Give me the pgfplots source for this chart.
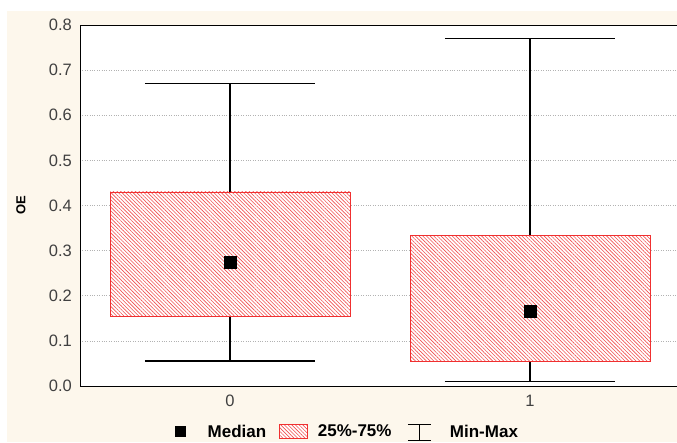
\documentclass[border=0pt]{standalone}
\usepackage{fontspec}
\setmainfont{Liberation Sans}
\usepackage{pgfplots}
\pgfplotsset{compat=1.18}
\usepgfplotslibrary{statistics}
\usetikzlibrary{patterns.meta}
\definecolor{cream}{HTML}{FDF7EC}
\definecolor{hatchred}{HTML}{F03030}
\tikzset{hatchbox/.style={draw=none, preaction={fill=white},
    pattern color=hatchred!85, pattern={Lines[angle=-45,distance=2.6pt,line width=0.6pt]},
    postaction={draw=hatchred, line width=0.9pt, pattern=none, fill=none}}}
\begin{document}
\begin{tikzpicture}
\useasboundingbox (0pt,0pt) rectangle (677pt,442pt);
\fill[cream] (7pt,0pt) rectangle (677pt,431pt);
\begin{axis}[
  at={(80pt,56pt)}, anchor=south west,
  scale only axis, width=600pt, height=361pt,
  xmin=-0.5, xmax=1.5, ymin=0, ymax=0.8,
  axis background/.style={fill=white},
  axis line style={black, line width=0.9pt},
  xtick={0,1}, xticklabels={0,1},
  ytick={0,0.1,...,0.8},
  major tick length=0pt,
  ymajorgrids,
  grid style={gray!60, dotted, line width=0.6pt},
  /pgf/number format/assume math mode=true,
  yticklabel={\pgfmathprintnumber[fixed,fixed zerofill,precision=1]{\tick}},
  tick label style={font=\fontsize{16.5}{18}\selectfont, text=black!75, inner sep=0pt},
  yticklabel style={xshift=-8pt},
  xticklabel style={yshift=-9pt},
  every axis y label/.style={at={(rel axis cs:0,0.5)}, xshift=-59pt, rotate=90, anchor=center,
    font=\fontsize{13}{15}\selectfont\bfseries},
  ylabel={OE},
  legend columns=3,
  legend style={at={(rel axis cs:0.446,0)}, anchor=center, yshift=-46pt,
    draw=none, fill=none, font=\fontsize{17}{19}\selectfont\bfseries,
    /tikz/every odd column/.append style={column sep=8pt},
    /tikz/every even column/.append style={column sep=8pt},
    cells={anchor=west}},
  boxplot/draw direction=y,
  boxplot/draw/median/.code={},
  boxplot/every box/.style={hatchbox},
  boxplot/every whisker/.style={black, line width=1.6pt},
]
\addlegendimage{legend image code/.code={
  \fill[black] (0pt,-5pt) rectangle (10pt,5pt); \path (22pt,0pt);}}
\addlegendentry{Median}
\addlegendimage{legend image code/.code={
  \path (-3pt,0pt); \path[hatchbox] (0pt,-7pt) rectangle (28pt,7pt);}}
\addlegendentry{25\%-75\%}
\addlegendimage{legend image code/.code={
  \path (-6pt,0pt);
  \draw[black, line width=1.3pt] (0pt,7pt) -- (23pt,7pt) (11.5pt,7pt) -- (11.5pt,-9pt) (0pt,-9pt) -- (23pt,-9pt);
  \path (32pt,0pt);}}
\addlegendentry{Min-Max}

\addplot[forget plot, black, boxplot prepared={draw position=0,
  lower whisker=0.055, lower quartile=0.155, median=0.275,
  upper quartile=0.43, upper whisker=0.67,
  box extend=0.8, whisker extend=0.567}] coordinates {};
\addplot[forget plot, black, boxplot prepared={draw position=1,
  lower whisker=0.01, lower quartile=0.055, median=0.165,
  upper quartile=0.334, upper whisker=0.77,
  box extend=0.8, whisker extend=0.567}] coordinates {};
\addplot[forget plot, only marks, mark=square*, mark size=6pt, black]
  coordinates {(0,0.275) (1,0.165)};
\end{axis}
\end{tikzpicture}
\end{document}
